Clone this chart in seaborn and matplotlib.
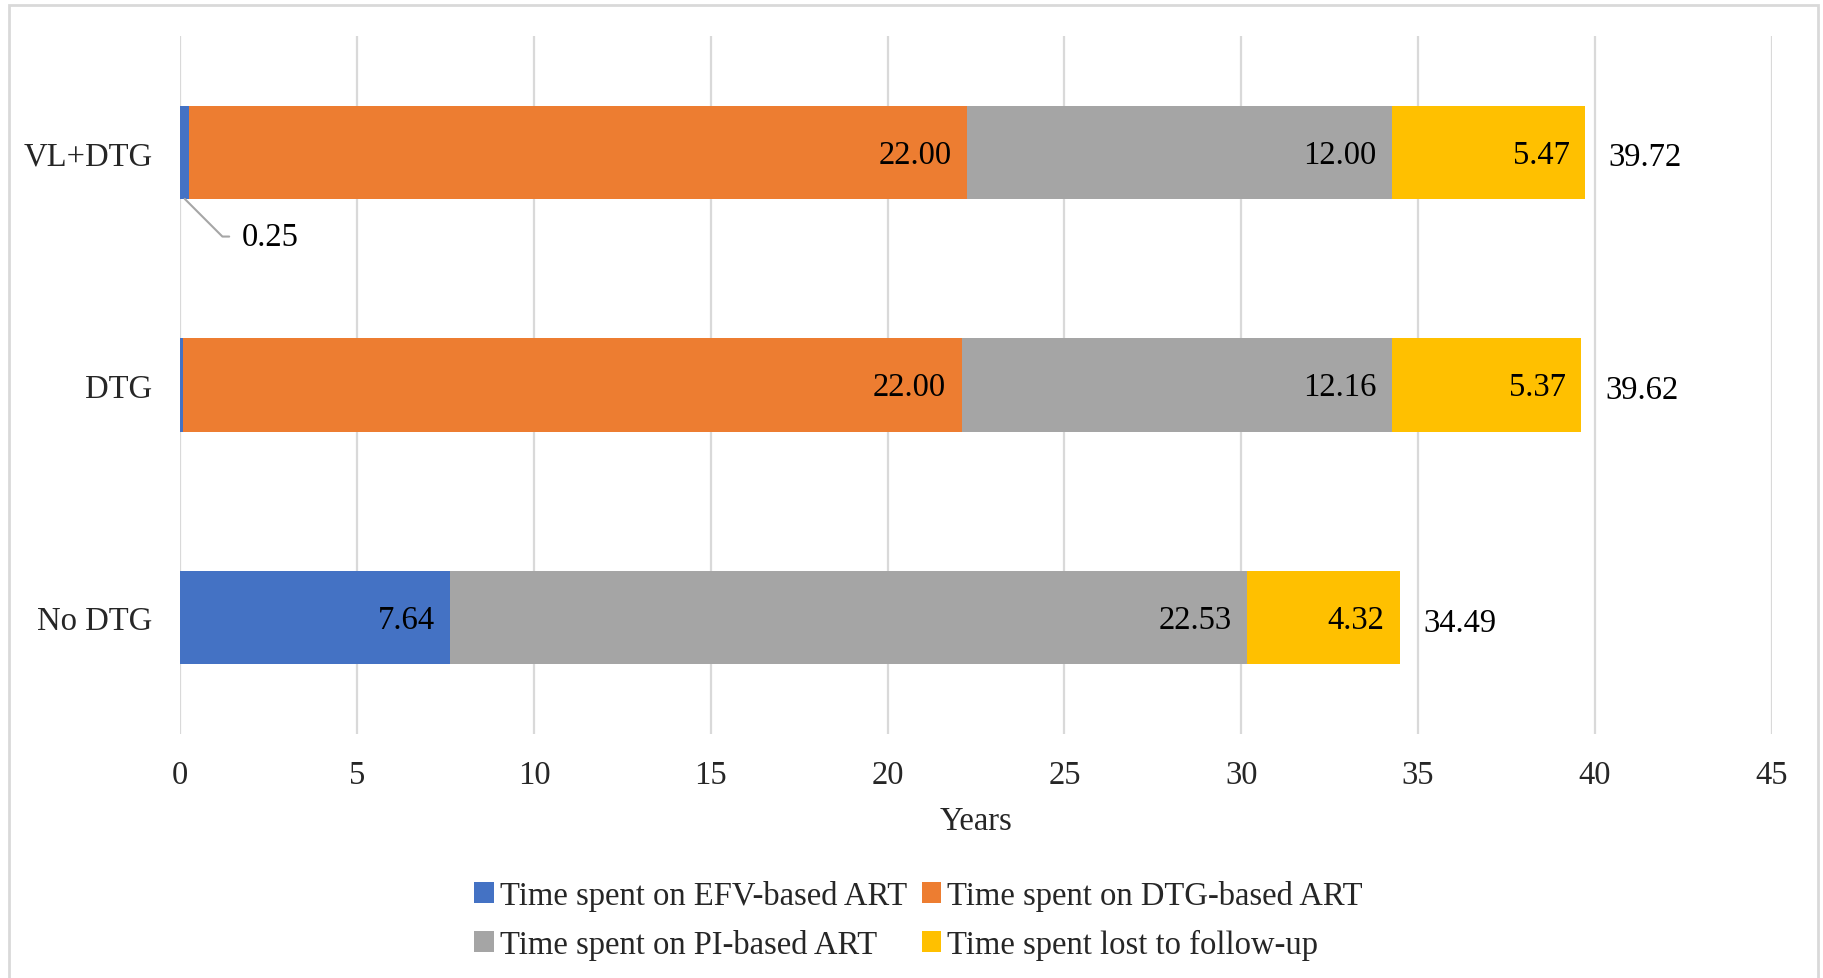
import matplotlib
matplotlib.use("Agg")
import matplotlib.pyplot as plt
from matplotlib.patches import Patch, Rectangle
import numpy as np
import pandas as pd
import seaborn as sns

# Scenarios and time (years) spent in each state
scenarios = ["VL+DTG", "DTG", "No DTG"]
efv_art = [0.25, 0.09, 7.64]
dtg_art = [22.00, 22.00, 0.00]
pi_art = [12.00, 12.16, 22.53]
lost_fu = [5.47, 5.37, 4.32]
totals = [39.72, 39.62, 34.49]

series_names = [
    "Time spent on EFV-based ART",
    "Time spent on DTG-based ART",
    "Time spent on PI-based ART",
    "Time spent lost to follow-up",
]
series_values = [efv_art, dtg_art, pi_art, lost_fu]
colors = ["#4472C4", "#ED7D31", "#A5A5A5", "#FFC000"]
x_ticks = [0, 5, 10, 15, 20, 25, 30, 35, 40, 45]

sns.set_theme(style="white")
plt.rcParams["font.family"] = ["Liberation Serif", "DejaVu Serif"]
FS = 23.5

fig = plt.figure(figsize=(18.24, 9.79), dpi=100)
ax = fig.add_axes([180.3 / 1824, 1 - 735 / 979, (1771.7 - 180.3) / 1824, (735 - 37) / 979])

# Build cumulative ends for the stacked segments
vals = np.array(series_values)
cum = np.cumsum(vals, axis=0)
df = pd.DataFrame({"scenario": scenarios})
for i in range(len(series_names)):
    df[f"cum{i}"] = cum[i]

# Draw from the outermost layer inward so each segment shows its own span
for i in reversed(range(len(series_names))):
    sns.barplot(data=df, x=f"cum{i}", y="scenario", orient="h", color=colors[i],
                width=0.4, saturation=1, linewidth=0, ax=ax, zorder=3)

ax.set_xlim(0, 45)
ax.set_ylim(2.5, -0.5)
ax.set_xticks(x_ticks)
ax.set_xticklabels([str(t) for t in x_ticks], fontsize=FS)
ax.tick_params(axis="x", length=0, pad=18.5)
ax.tick_params(axis="y", length=0, pad=20, labelsize=FS)
ax.set_ylabel("")
ax.set_xlabel("Years", fontsize=FS, labelpad=11)
for s in ax.spines.values():
    s.set_visible(False)
ax.grid(axis="x", color="#D9D9D9", linewidth=1.6, zorder=0)
ax.grid(axis="y", visible=False)

# Segment value labels at the inside end of each segment
for i in range(1, len(series_names)):
    for j in range(len(scenarios)):
        v = vals[i][j]
        if v > 0.5:
            ax.annotate(f"{v:.2f}", xy=(cum[i][j], j), xytext=(-11, -1.5),
                        textcoords="offset points", ha="right", va="center",
                        fontsize=FS, color="black", zorder=5)
# EFV segment for No DTG is wide enough to hold its label
j = 2
ax.annotate(f"{efv_art[j]:.2f}", xy=(cum[0][j], j), xytext=(-11, -1.5),
            textcoords="offset points", ha="right", va="center",
            fontsize=FS, color="black", zorder=5)

# Small EFV segment for VL+DTG labelled with a leader line
ax.annotate(f"{efv_art[0]:.2f}", xy=(efv_art[0] / 2, 0.2), xytext=(1.75, 0.362),
            textcoords="data", ha="left", va="center", fontsize=FS, color="black",
            arrowprops=dict(arrowstyle="-", color="#A6A6A6", lw=1.5,
                            shrinkA=7, shrinkB=0,
                            connectionstyle="angle,angleA=0,angleB=-45"),
            zorder=5)

# Totals to the right of each bar
for j, t in enumerate(totals):
    ax.annotate(f"{t:.2f}", xy=(t, j), xytext=(17, -3.5), textcoords="offset points",
                ha="left", va="center", fontsize=FS, color="black", zorder=5)

# Legend below the plot
handles = [Patch(facecolor=c, edgecolor="none") for c in colors]
order = [0, 2, 1, 3]
fig.legend([handles[k] for k in order], [series_names[k] for k in order],
           loc="center", bbox_to_anchor=(0.5035, 1 - 921 / 979), ncol=2,
           frameon=False, fontsize=FS, handlelength=0.6, handleheight=0.6,
           handletextpad=0.18, columnspacing=0.45, labelspacing=0.56)

# Light chart-area border
fig.patches.append(Rectangle((9 / 1824, -0.02), (1818 - 9) / 1824, 1.02 - 6 / 979,
                             transform=fig.transFigure, fill=False,
                             edgecolor="#D9D9D9", linewidth=2))

fig.savefig("out.png", dpi=100)
